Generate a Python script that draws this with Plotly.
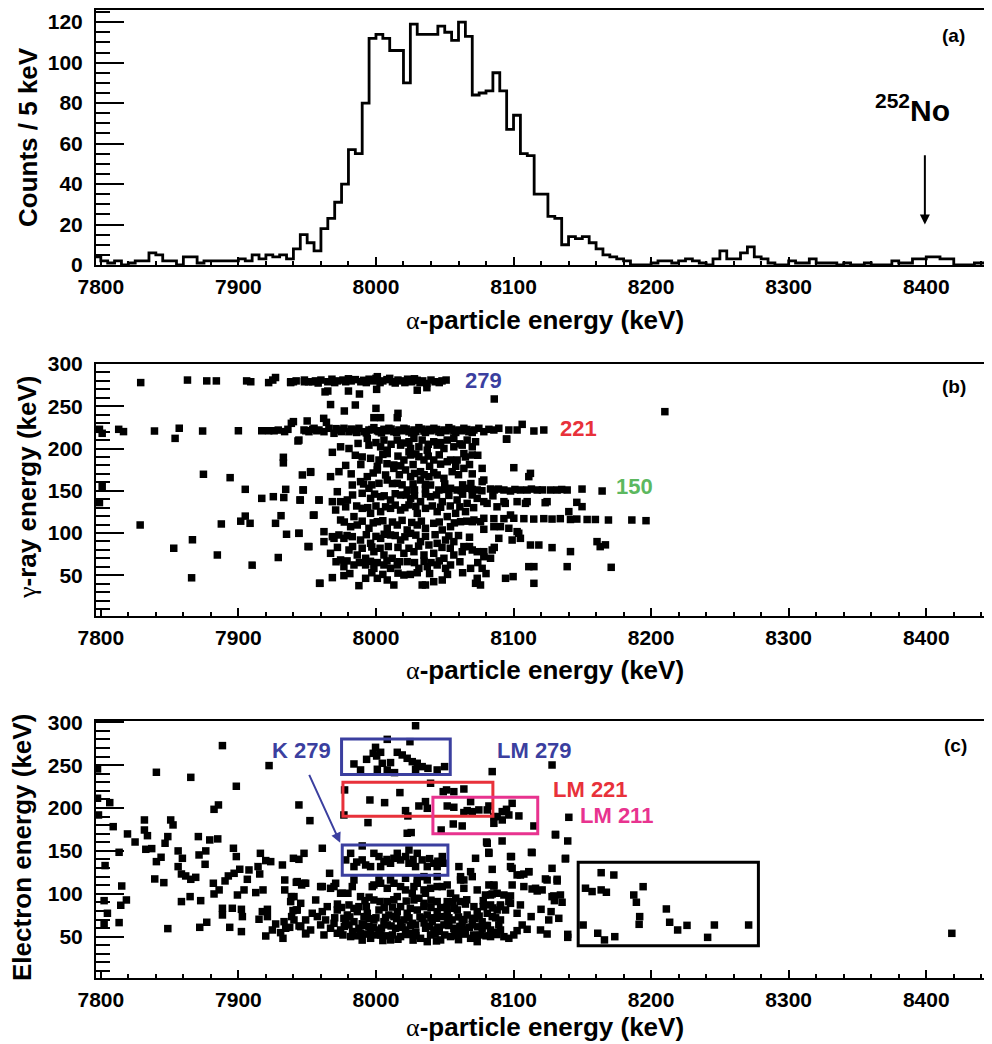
import plotly.graph_objects as go

# ---------------- Panel (a): alpha spectrum, 5 keV bins starting at 7795 keV ----------------
bin_start = 7795
bin_width = 5
counts_a = [
    4, 2, 1, 2, 0, 1, 2, 2, 6, 5,
    2, 2, 0, 4, 4, 1, 2, 2, 2, 2,
    2, 3, 2, 5, 3, 5, 4, 5, 3, 8,
    15, 11, 7, 18, 23, 31, 40, 57, 55, 80,
    112, 114, 112, 106, 106, 90, 119, 114, 114, 114,
    118, 115, 111, 120, 113, 84, 85, 86, 95, 86,
    67, 74, 55, 54, 35, 35, 24, 23, 10, 14,
    13, 14, 11, 8, 5, 4, 3, 2, 0, 0,
    0, 1, 2, 2, 1, 2, 3, 2, 1, 0,
    3, 7, 3, 3, 6, 9, 4, 3, 1, 0,
    0, 2, 1, 1, 3, 1, 1, 1, 0, 1,
    0, 0, 1, 0, 0, 0, 2, 1, 1, 3,
    3, 4, 4, 3, 3, 0, 0, 0, 1, 1, 0,
]
x_ticks = [7800, 7900, 8000, 8100, 8200, 8300, 8400]

# ---------------- Panel (b): gamma-ray energy vs alpha energy (alpha keV, gamma keV) ----------------
b_line279 = [
    (7829, 278), (7863, 281), (7877, 280), (7884, 280), (7906, 280), (7909, 279), (7922, 278),
    (7925, 281), (7927, 284), (7938, 278), (7940, 279), (7948, 279), (7954, 279),
    (7938, 279), (7942, 280), (7948, 281), (7951, 279), (7956, 280), (7960, 281), (7965, 279),
    (7968, 282), (7972, 280), (7976, 281), (7978, 279), (7982, 280), (7985, 281.5), (7989, 279),
    (7991, 280.7), (7995, 282), (7998, 280), (8001, 285), (8005, 280), (8008, 281.5), (8012, 279),
    (8016, 281), (8019, 280), (8023, 282), (8026, 279), (8030, 280.7), (8034, 280), (8037, 277),
    (8043, 279), (8051, 281), (7958, 277.5), (7970, 278), (7980, 282.5), (7993, 278), (8000, 283),
    (8003, 278), (8010, 283), (8014, 277.5), (8021, 278), (8028, 282.5), (8032, 278), (8040, 281),
    (8046, 278), (8048, 280),
]
b_between = [
    (7963, 267), (7965, 268), (7980, 268), (7988, 264.5), (8000.5, 270), (8030, 269), (8037, 272),
    (8086, 258.6), (7967, 252), (7977, 244.4), (7985, 251.5), (8000, 247.5), (7998.5, 236.5),
    (8003.4, 236.5), (8016, 241.6), (8015.5, 236.5), (8210, 243.6),
]
b_line221 = [
    (7799, 222.7), (7801, 218), (7813, 222.7), (7816.5, 220), (7839, 220.7), (7854, 212), (7857, 224),
    (7874, 220.7), (7900, 221), (7917, 221), (7922, 221), (7926, 221), (7929, 221.8), (7933.6, 220),
    (7936, 222.7), (7938.5, 229.8), (7940, 231.8), (7944, 210), (7949, 221), (7950, 232.6),
    (7954, 222.7), (7957, 221), (7964, 231), (7962, 235.7),
    (7947.7, 221.9), (7951.3, 219.9), (7955, 223.9), (7958.6, 221.9), (7962.2, 219.9), (7965.8, 223.9),
    (7969.5, 218), (7973.1, 221.9), (7976.7, 223.9), (7980.4, 219.9), (7984, 221.9), (7987.6, 223.9),
    (7991.3, 219.9), (7994.9, 221.9), (7998.5, 224.7), (8002.2, 219.9), (8005.8, 222.7), (8009.4, 223.9),
    (8013, 219.9), (8016.7, 221.9), (8020.3, 223.9), (8024, 219.9), (8027.6, 221.9), (8031.2, 224.7),
    (8034.9, 220.7), (8038.5, 222.7), (8042.1, 223.9), (8045.7, 219.9), (8049.4, 221.9), (8053, 224.7),
    (8056.6, 220.7), (8060.3, 221.9), (8063.9, 223.9), (8067.5, 219.9), (8071.2, 221.9), (8074.8, 223.9),
    (8078.4, 219.9), (8082.1, 222.7), (8085.7, 221.9), (8089.3, 223.9), (8096.6, 221.9), (8102.6, 221.9),
    (8106.3, 228.6), (8114.8, 220.7), (8122, 221.9),
    (7993, 218.5), (7997, 222.5), (8001, 221), (8004, 218.5), (8008, 221), (8011, 223), (8015, 219),
    (8019, 221), (8022, 223), (8026, 218.5), (8029, 220), (8033, 223), (8036, 219), (8040, 221),
    (8044, 222.5), (8047, 219), (8051, 221), (8055, 223), (8058, 219), (8062, 221), (8066, 222.5),
    (8070, 219), (7982, 223), (7986, 219), (7975, 220), (7971, 223.5), (8095, 211),
]
b_upper_body = [
    (7943.3, 208.9), (7993.7, 212), (8005.8, 210), (8015.5, 210), (8024, 208), (8027.6, 212),
    (8033.6, 210), (8042, 208), (8051.8, 210), (8056.6, 212), (8066.3, 210), (8072.4, 208), (8094.9, 211.2),
    (7968.3, 195.5), (7974.3, 202), (7980.4, 200), (7994.9, 204), (8003.4, 202), (8008.2, 198),
    (8017.9, 204), (8025.2, 200), (8031.2, 202), (8037.3, 198), (8044.5, 204), (8049.4, 200),
    (8056.6, 202), (8062.7, 204), (8070, 202),
    (7996.1, 188.4), (8002.2, 186.4), (8008.2, 194), (8013, 180.5), (8020.3, 186.4), (8025.2, 192.3),
    (8031.2, 190.3), (8034.9, 186.4), (8042, 186.4), (8051.8, 184.4), (8054.2, 186.4), (8059, 186.4),
    (8063.9, 194), (8070, 192.3), (8077.2, 176.5), (8100.2, 177.3), (8024, 196),
    (7946.5, 168.7), (7952.5, 171.8), (7967, 166.7), (7973.1, 172.6), (7993.7, 166.7), (8001, 174.6),
    (8007, 168.7), (8013, 176.5), (8021.5, 174.6), (8025.2, 166.7), (8032.4, 172.6), (8038.5, 166.7),
    (8044.5, 168.7), (8049.4, 164.7), (8055.4, 172.6), (8063.9, 176.5), (8077.2, 160.8), (8112.3, 170.6),
    (8111.1, 166.7),
    (7987, 206), (8000, 207), (8011, 205), (8020, 206.5), (8038, 205), (8047, 207), (8061, 205.5),
    (7985, 192), (7990, 190), (8005, 193), (8016, 191), (8029, 193.5), (8038, 191), (8046, 192.5),
    (8065, 190), (8074, 192),
    (7978, 180), (7989, 181), (8001, 179), (8008, 182), (8018, 179.5), (8027, 181), (8039, 179),
    (8047, 181.5), (8058, 179), (8068, 181),
    (7982, 170), (7998, 171), (8017, 169), (8028, 170.5), (8035, 169), (8042, 171.5), (8060, 169),
    (8070, 170),
]
b_line150 = [
    (7982.8, 156.8), (7988.8, 160.8), (7994.9, 152.9), (8002.2, 158.8), (8008.2, 162.7), (8015.5, 158.8),
    (8022.7, 150.9), (8032.4, 162.7), (8039.7, 156.8), (8045.7, 150.9), (8054.2, 152.9), (8059, 150.9),
    (8066.3, 152.9), (8073.6, 150.9), (8078.4, 162.7), (8083.3, 152.1), (8093, 150.9), (8097.8, 149.7),
    (8105, 150.9), (8109.9, 150.9), (8117.2, 150.9), (8126.9, 150.9), (8131.7, 150.9), (8139, 150.9),
    (8149.8, 152), (8164.4, 149.7), (8086, 151), (8089, 152), (8101, 151.5), (8113, 152), (8121, 151),
    (8135, 151.5), (8050, 151.5), (8062, 150), (8070, 151.5), (8077, 150), (8028, 151), (8036, 152),
    (7991, 158), (7997, 157), (8012, 158.5), (8019, 157), (8027, 158), (8036, 157.5), (8050, 158),
    (8063, 157), (8069, 158.5),
]
b_lower_body = [
    (7947.2, 150.9), (7944.8, 139.1), (7958.6, 139.1), (7971.9, 148.9), (7968.3, 137.1), (7974.3, 137.1),
    (7979.2, 139.1), (7990, 147), (7996.1, 141), (8003.4, 143), (8010.6, 139.1), (8017.9, 145),
    (8025.2, 141), (8032.4, 137.1), (8039.7, 143), (8048.2, 137.1), (8059, 139.1), (8066.3, 135.1),
    (8073.6, 141), (8078.4, 137.1), (8093, 137.1), (8102.6, 137.1), (8109.9, 137.1), (8124.4, 137.1),
    (8080.8, 135.1), (8094, 135.1), (8108.7, 135.1), (8123, 135.9), (8146, 136.3), (8149.8, 131.2),
    (7955, 121.3), (7970.7, 127.2), (7974.3, 115.4), (7984, 119.4), (7990, 129.2), (7996.1, 123.3),
    (8003.4, 125.3), (8010.6, 129.2), (8017.9, 127.2), (8024, 133.2), (8030, 123.3), (8036, 129.2),
    (8044.5, 125.3), (8051.8, 119.4), (8057.9, 123.3), (8065.1, 125.3), (8071.2, 115.4), (8078.4, 117.4),
    (8085.7, 117), (8093, 117), (8100.2, 117.5), (8107.5, 117), (8114.7, 116.5), (8122, 117), (8128, 116.5),
    (8134, 117), (8141.4, 116), (8146, 116.5), (8153.5, 116), (8159.5, 116), (8169, 115.4), (8186, 115.4),
    (8196.3, 114.6), (8097.8, 121.3), (8140.2, 125.3),
    (7944, 99.6), (7962.2, 101.6), (7968.3, 95.7), (7973.1, 97.7), (7981.6, 107.5), (7986.4, 109.5),
    (7994.9, 105.6), (8001, 113.4), (8008.2, 105.6), (8015.5, 109.5), (8022.7, 103.6), (8030, 109.5),
    (8036, 105.6), (8042, 111.5), (8048.2, 103.6), (8054.2, 107.5), (8061.5, 113.4), (8070, 113.4),
    (8076, 113.4), (8085.7, 107.5), (8096.6, 105.6), (8102.6, 101.6), (8105, 93.7), (8112.3, 85.8),
    (8118.4, 85.8), (8128, 82.7), (8089.3, 93.7), (8099, 91.7), (8078.4, 104.4), (8090.5, 107.5),
    (8103.8, 99.7),
    (7951.3, 83.9), (7962.2, 89.8), (7969.5, 93.7), (7976.7, 93.7), (7982.8, 95.7), (7988.8, 91.7),
    (7996.1, 87.8), (8003.4, 93.7), (8010.6, 97.7), (8017.9, 91.7), (8025.2, 99.6), (8032.4, 89.8),
    (8038.5, 85.8), (8044.5, 87.8), (8050.6, 91.7), (8056.6, 89.8), (8063.9, 83.9), (8073.6, 77.9),
    (8078.4, 77.9), (8084.5, 79.9), (8141.4, 78), (8160.7, 89.8), (8163, 83.9), (8166.8, 86),
    (7967, 76), (7974.3, 68.1), (7980.4, 79.9), (7986.4, 74), (7992.5, 70.1), (7998.5, 77.9),
    (8005.8, 74), (8011.8, 70.1), (8020.3, 76), (8027.6, 77.9), (8034.9, 74), (8042, 76), (8049.4, 70.1),
    (8056.6, 74), (8062.7, 77.9), (8070, 79.9), (8078.4, 72), (8083.3, 70.1),
    (7976.7, 60.2), (7984, 62.2), (7992.5, 62.2), (7998.5, 58.2), (8005.8, 62.2), (8010.6, 58.2),
    (8015.5, 62.2), (8022.7, 66.1), (8031.2, 58.2), (8037.3, 60.2), (8044.5, 62.2), (8050.6, 58.2),
    (8054.2, 62.2), (8068.8, 58.2), (8077.2, 58.2), (8111.1, 60.2), (8114.8, 60.2), (8139, 60.2),
    (8171, 59.4),
    (7959.3, 40.5), (7968.3, 47.2), (7976.7, 49.6), (7987.6, 37.7), (7992.5, 46.4), (8001, 46.4),
    (8008.2, 44.4), (8013, 38.5), (8020.3, 50.3), (8033.6, 38.5), (8036, 38.5), (8042, 42.4),
    (8048.2, 44.4), (8072.4, 40.5), (8073.6, 46.4), (8094.2, 46.4), (8099.7, 48.4), (8114.8, 40.5),
    (8076, 38.5),
    (7983, 145), (7999, 146), (8006, 144), (8014, 146.5), (8022, 145), (8028, 144), (8036, 146),
    (8044, 145), (8053, 144.5), (8063, 146), (8070, 145), (8085, 144),
    (7978, 131), (7986, 132), (7994, 130), (8000, 132), (8007, 131), (8014, 133), (8021, 130),
    (8029, 131.5), (8041, 132), (8047, 130.5), (8054, 132), (8061, 131), (8071, 130), (8088, 131),
    (7977, 113), (7990, 114), (7998, 112), (8005, 114.5), (8012, 113), (8019, 115), (8026, 112.5),
    (8033, 114), (8046, 113), (8057, 112), (8066, 114),
    (7979, 97), (7993, 98), (8000, 96), (8006, 98.5), (8014, 97), (8021, 95.5), (8029, 97.5),
    (8036, 96), (8043, 98), (8053, 96.5), (8060, 97), (8068, 95),
    (7972, 83), (7983, 84), (7990, 82), (7997, 83.5), (8003, 82), (8009, 84), (8016, 83),
    (8024, 82), (8031, 84.5), (8048, 83), (8054, 82), (8068, 84), (8086, 83),
    (7971, 66), (7979, 67), (7988, 65), (7996, 66.5), (8001, 65), (8008, 67), (8017, 66),
    (8028, 65), (8035, 66.5), (8040, 65), (8046, 67), (8061, 66), (8074, 65),
    (7981, 52), (7997, 53), (8005, 51), (8016, 52.5), (8025, 51), (8030, 53), (8039, 52),
    (8052, 51), (8063, 53), (8080, 52),
]
b_sparse_left = [
    (7799, 136), (7801, 155), (7828.6, 109.5), (7853, 82), (7866.6, 92), (7866, 47), (7874.6, 169.5),
    (7884.7, 74), (7887.6, 110.7), (7894, 165.5), (7901.7, 114), (7905, 151.7), (7905, 120),
    (7908.5, 111.5), (7910, 62), (7917, 141), (7925.4, 143), (7927, 111.5), (7929, 71), (7931, 120.5),
    (7932.7, 189.6), (7932.7, 183), (7933, 142), (7934.4, 151.7), (7935, 98.5), (7944, 99.7), (7945, 139),
    (7947, 151), (7950.6, 84), (7952.5, 172.6), (7954.5, 121), (7959, 40.5), (7958.6, 139),
]

# ---------------- Panel (c): electron energy vs alpha energy (alpha keV, electron keV) ----------------
c_left = [
    (7797.6, 245.6), (7797.6, 211.4), (7798.3, 191.9), (7806.5, 206.3), (7809, 178.3), (7813.3, 148.4),
    (7803.1, 132.9), (7815.2, 109.1), (7802.4, 92), (7814.5, 86.6), (7818.6, 92.8), (7804.8, 77.3),
    (7802.4, 64.8), (7813.3, 66.4), (7819.4, 169.8), (7824.9, 160.4), (7831.7, 186.1), (7831.7, 174.4),
    (7833.9, 167.8), (7832.7, 151.9), (7837, 152.7), (7840.4, 137.5), (7843.8, 142.6), (7840.4, 241.7),
    (7839.2, 117.3), (7845.8, 113), (7848.7, 59.4), (7850.8, 186.1), (7852.5, 180.3), (7848.7, 166.7),
    (7846.7, 158.9), (7856.2, 150), (7859.3, 141.4), (7856.2, 131.7), (7858.6, 123.1), (7861.7, 120.8),
    (7865.4, 116.9), (7869, 119.2), (7865.4, 235.8), (7858.6, 90.9), (7864.9, 96.7), (7872.6, 92),
    (7870.9, 166.7), (7871.4, 145.3), (7875.8, 134.4), (7876.3, 150), (7879.2, 162.8), (7885, 164),
    (7882.3, 198.5), (7885.5, 203.6), (7888.4, 272.8), (7898.5, 225.4), (7881.8, 112.3), (7886, 104.5),
    (7882.3, 99.8), (7877, 66.8), (7871.9, 60.9), (7888.4, 83.1), (7895.6, 83.1), (7888.4, 75.3),
    (7893.7, 60.9), (7902.2, 81.9), (7902.9, 73.4), (7902.2, 55.9), (7896.4, 153.1), (7898.5, 143.4),
    (7890.3, 115), (7892.7, 120.8), (7896.9, 123.9), (7901, 128.6), (7907.7, 127.8), (7906.5, 116.9),
    (7904.1, 104.5), (7899.3, 98.6), (7912.6, 101.4), (7917.9, 104.5), (7916, 147.2), (7919.9, 138.7),
    (7923.5, 137.5), (7914.3, 131.7), (7915.5, 123.1), (7932, 133.6), (7933.7, 116.1), (7933.7, 104.5),
    (7938.5, 96.7), (7921.1, 81.9), (7917.4, 79.2), (7915, 70.3), (7921.1, 73.4), (7927.1, 64.8),
    (7924.7, 57.8), (7919.9, 50.8), (7933.2, 67.5), (7934.4, 59.8), (7930.7, 54.7), (7932.4, 48.1),
    (7939.7, 80.4), (7942.1, 81.1), (7938.7, 73.4), (7944.1, 62.5), (7937.3, 60.9), (7944, 203.6),
    (7922.3, 249.5), (7944, 140.2), (7942.1, 113.4), (7946, 110.3), (7947.7, 147.2), (7948.9, 53.2),
]
c_top = [
    (8028.8, 296), (8008.2, 280.1), (8024.7, 277.4), (7999.7, 270.8), (7993.2, 256.8), (8000.5, 260.7),
    (8003.4, 265), (7998, 263.8), (7984, 251.4), (7988.8, 244.4), (8001, 245.2), (8004.6, 252.2),
    (8010.6, 253), (8008.2, 244.4), (8015.5, 265), (8019.1, 261.9), (8022.7, 258), (8026.4, 254.1),
    (8030, 252.2), (8033.6, 248.3), (8037.8, 246.3), (8044.5, 244.4), (8049.9, 248.3), (8013.5, 241.3),
    (8028.8, 245.2), (8084.5, 242.5), (8128, 250.2),
]
c_lm221 = [
    (7977.2, 221.1), (7995.6, 209.4), (8006.3, 206.3), (8017.4, 218), (8021.5, 197), (8023.2, 190.8),
    (8039.7, 228.9), (8031.2, 202.4), (8036, 207.5), (8037.3, 199.7), (8048.9, 219.1), (8051.3, 221.1),
    (8056.6, 219.1), (8063.9, 222.2), (8051.8, 202.4), (8056.6, 200.9), (8068.8, 207.5), (8066.3, 197),
    (8070, 195.8), (8063.9, 194.7), (8074.8, 197.8), (8082.1, 202.4), (8080.9, 197.8), (8056.2, 181.4),
    (8062.7, 179.1), (8047.4, 174.4), (8085.7, 190), (8085.7, 182.2), (8088.1, 190), (8091.8, 195.8),
    (8094.9, 198.5), (8099, 205.5), (8103.9, 190.8), (8096.6, 191.9), (8114.8, 179.1), (8091.8, 186.1),
    (7976.7, 191.9), (7994.2, 183), (8022.7, 170.6), (8025.6, 171.4), (8140.2, 189.2), (8130.5, 169.3),
    (8139.4, 161.6), (7952, 185.3), (7961, 153.1),
]
c_k279 = [
    (7981.6, 147.2), (7978, 139.5), (7990, 139.5), (7992.5, 133.6), (7998.5, 147.2), (8002.2, 143.4),
    (8005.8, 137.5), (8010.6, 135.6), (8015.5, 147.2), (8017.9, 139.5), (8021.5, 143.4), (8024, 135.6),
    (8028.8, 131.7), (8033.6, 139.5), (8037.3, 131.7), (8042.1, 135.6), (8048.2, 143.4), (8049.4, 135.6),
    (7996.1, 131.7), (8013.1, 141.4), (8003.4, 131.7), (7984, 131.7), (8044.5, 131.7), (8030, 147.2),
    (7990, 155.8), (8024, 151.1), (7986, 137), (8008, 140), (8027, 140), (8039, 141), (8045, 138),
]
c_mid = [
    (7940, 141.4), (7966.3, 123.9), (7942.8, 114.2), (7947.7, 112.3), (7959.8, 108.4), (7969.5, 108.4),
    (7974.3, 100.6), (7979.6, 100.6), (7984, 116.1), (7988.8, 96.7), (7997.3, 108.4), (8003.4, 112.3),
    (8010.6, 116.1), (8017.9, 108.4), (8030, 112.3), (8034.9, 104.5), (8037.3, 116.1), (8044.5, 108.4),
    (8051.8, 110.3), (8060.3, 131.7), (8061.5, 120), (8068.8, 125.8), (8063.9, 116.1), (8072.4, 141.4),
    (8080.9, 158.9), (8082.1, 147.2), (8097.8, 143.4), (8113.5, 148), (8130.5, 168.6), (8137.8, 141.4),
    (8124.4, 116.1), (8131.7, 116.9), (8097.8, 131.7), (8105, 121.9), (8111.1, 125.8), (8116, 106.4),
    (8120.8, 104.5), (8129.3, 97.5), (8085.7, 110.3), (8088.1, 100.6), (8093, 98.6), (8096.6, 90.9),
    (8105, 87), (8107.5, 108.4), (8083.3, 98.6),
    (8030, 116.1), (8034.9, 120), (8027.6, 108.4), (8036, 100.6), (8031.2, 94.8), (8026.4, 100.6),
    (7940.4, 96.7), (7948.9, 112.3), (7961, 108.4), (7967, 106.4), (7970.7, 112.3), (7975.5, 100.6),
    (7982.8, 108.4), (7998.5, 110.3), (8002.2, 116.1), (8008.2, 106.4), (8013.1, 112.3), (8015.5, 96.7),
    (8021.5, 118.1), (8021.5, 104.5), (8039.7, 106.4), (8044.5, 120), (8048.2, 108.4), (8054.2, 100.6),
    (8051.8, 90.9), (8061.5, 116.1), (8063.9, 106.4), (8070, 120), (8073.6, 104.5), (8082.1, 110.3),
    (8079.6, 98.6),
    (8080.4, 160.4), (8091.7, 161.6), (8082, 148.4), (8098.5, 143.4), (8113, 148.4), (8137.7, 140.6),
    (8084.5, 128.5), (8099, 129.7), (8102.6, 122), (8107.5, 123), (8111.1, 125.7), (8128, 129.7),
    (8123.2, 117.3), (8131.7, 114.9), (8085.7, 109), (8099, 110.3), (8113.5, 105.6), (8117.2, 103.3),
    (8084.5, 99.8), (8097.8, 97.5), (8128, 96.7), (8134.1, 98.6), (8129.7, 92), (8135.3, 90.1),
]
c_low = [
    (7938, 90.9), (7945.3, 88.9), (7956.2, 92.8), (7964.6, 85), (7980.4, 87), (7987.6, 85), (7998.5, 92.8),
    (8008.2, 90.9), (8017.9, 85), (8027.6, 92.8), (8034.9, 88.9), (8044.5, 90.9), (8051.8, 85),
    (8061.5, 90.9), (8071.2, 85), (8083.3, 87), (8090.5, 87),
    (7942.8, 81.1), (7953.7, 77.3), (7961, 79.2), (7971.9, 81.1), (7979.2, 75.3), (7986.4, 79.2),
    (7993.7, 77.3), (8002.2, 81.1), (8009.4, 75.3), (8015.5, 79.2), (8022.7, 77.3), (8030, 81.1),
    (8037.3, 75.3), (8044.5, 79.2), (8051.8, 77.3), (8059.1, 81.1), (8066.3, 75.3), (8073.6, 79.2),
    (8080.9, 77.3), (8088.1, 81.1),
    (7940.4, 69.5), (7948.9, 69.5), (7957.4, 73.4), (7963.4, 69.5), (7969.5, 65.6), (7976.7, 71.4),
    (7984, 67.5), (7991.3, 73.4), (7998.5, 69.5), (8005.8, 67.5), (8013.1, 73.4), (8020.3, 69.5),
    (8026.4, 65.6), (8033.6, 71.4), (8040.9, 67.5), (8048.2, 73.4), (8055.4, 69.5), (8062.7, 65.6),
    (8070, 71.4), (8077.2, 67.5), (8084.5, 73.4), (8090.5, 69.5),
    (7945.3, 61.7), (7952.5, 57.8), (7959.8, 63.7), (7967, 59.8), (7974.3, 57.8), (7980.4, 63.7),
    (7987.6, 59.8), (7994.9, 61.7), (8002.2, 57.8), (8008.2, 63.7), (8014.3, 59.8), (8021.5, 57.8),
    (8028.8, 63.7), (8036.1, 59.8), (8042.1, 57.8), (8049.4, 63.7), (8056.6, 59.8), (8063.9, 57.8),
    (8070, 63.7), (8077.2, 59.8), (8083.3, 57.8), (8089.3, 63.7),
    (7948.9, 54), (7962.2, 52), (7971.9, 54), (7981.6, 50.1), (7988.8, 54), (7996.1, 48.1), (8003.4, 52),
    (8010.6, 46.2), (8017.9, 50.1), (8025.2, 54), (8032.4, 48.1), (8039.7, 52), (8047, 46.2),
    (8054.2, 50.1), (8061.5, 54), (8068.8, 48.1), (8076, 52), (8083.3, 50.1), (8073.6, 44.2), (8037.3, 44.2),
    (7978, 70), (7983, 56), (7990, 65), (7996, 54), (8000, 72), (8004, 60), (8012, 52), (8018, 66),
    (8024, 72), (8029, 55), (8035, 66), (8040, 72), (8046, 56), (8052, 65), (8058, 54), (8064, 70),
    (8068, 61), (8075, 74), (8081, 63), (8086, 55), (7972, 88), (8006, 84), (8040, 84), (8065, 88),
    (7995, 96), (8058, 95),
    (7992, 92), (8003, 91), (8013, 93), (8022, 91.5), (8040, 92.5), (8056, 91), (8066, 93), (8078, 92),
    (7975, 84), (7984, 83), (7993, 85), (8012, 84.5), (8025, 83), (8035, 85), (8047, 84), (8057, 83),
    (8078, 85), (8085, 83.5),
    (7970, 72), (7981, 73), (7995, 71), (8007, 72.5), (8015, 71), (8032, 73), (8044, 71.5), (8053, 72),
    (8060, 73), (8072, 71), (8087, 72),
    (7977, 62), (7991, 63), (7998, 61), (8011, 62.5), (8019, 61), (8025, 63), (8039, 62), (8045, 61),
    (8053, 63), (8061, 62), (8074, 61.5), (8080, 63),
    (7976, 52), (7986, 51), (7993, 53), (8000, 52), (8008, 51), (8022, 52.5), (8029, 51), (8043, 53),
    (8050, 52), (8057, 51), (8065, 53), (8071, 52), (8080, 51), (8088, 52.5),
    (7990, 46), (8005, 45.5), (8016, 47), (8027, 46), (8044, 45), (8060, 46.5),
    (8120, 81.9), (8127.3, 79.2), (8112.8, 73.4), (8132.9, 71.4), (8125.6, 69.5), (8102.6, 77.3),
    (8090.5, 85), (8094.2, 81.1), (8097.8, 88.9), (8109.9, 58.6), (8119.6, 57.8), (8124.4, 53.1),
    (8139.4, 52.7), (8139.4, 49.2), (8100.2, 52), (8096.6, 48.1), (8102.6, 57), (8090.5, 57.8),
    (8093, 50), (8106.3, 63.6),
]
c_far = [
    (8150.6, 63.6), (8152.3, 106.5), (8157.1, 102.6), (8161.2, 54), (8163.7, 124.6), (8163.7, 104.5),
    (8167.5, 101.8), (8166.1, 46.2), (8172.9, 121.9), (8173.6, 50), (8187.4, 98.6), (8189.3, 90.1),
    (8194.2, 108.3), (8191.7, 73.4), (8191.3, 64.4), (8211.1, 82.3), (8213.5, 66.8), (8219.3, 57.8),
    (8226.1, 63.2), (8241.1, 49.2), (8246, 63.6), (8270.9, 63.6), (8418.6, 53.9),
]

# ---------------- styling ----------------
BLUE = "#3b3f9f"
RED = "#e8313a"
GREEN = "#5cb85f"
PINK = "#e8338f"
FONT = "Liberation Sans"
OFF = 8                      # page offset of the plot div (default body margin)
W, H = 992 - OFF, 1044 - OFF
XRANGE = [7796.5, 8447.8]
XDOM = [(96 - OFF) / W, 1.0]


def px(x):
    return (x - OFF) / W


def py(y):
    return 1 - (y - OFF) / H


def ydom(top_px, bottom_px):
    return [py(bottom_px), py(top_px)]


edges = [bin_start + bin_width * i for i in range(len(counts_a) + 1)]
hist_y = counts_a + [counts_a[-1]]

fig = go.Figure()
fig.add_trace(go.Scatter(x=edges, y=hist_y, mode="lines", line=dict(color="black", width=2.8, shape="hv"),
                         xaxis="x", yaxis="y", showlegend=False, hoverinfo="skip"))

marker = dict(symbol="square", size=7.5, color="black", line=dict(width=0))
b_all = b_line279 + b_between + b_line221 + b_upper_body + b_line150 + b_lower_body + b_sparse_left
fig.add_trace(go.Scatter(x=[p[0] for p in b_all], y=[p[1] for p in b_all], mode="markers", marker=marker,
                         xaxis="x2", yaxis="y2", showlegend=False))
c_all = c_left + c_top + c_lm221 + c_k279 + c_mid + c_low + c_far
fig.add_trace(go.Scatter(x=[p[0] for p in c_all], y=[p[1] for p in c_all], mode="markers", marker=marker,
                         xaxis="x3", yaxis="y3", showlegend=False))

tickfont = dict(family=FONT, size=21, color="black", weight="bold")


def xaxis(anchor):
    return dict(range=XRANGE, domain=XDOM, anchor=anchor, tickmode="array", tickvals=x_ticks,
                ticks="inside", ticklen=8, tickwidth=2, tickcolor="black", automargin=False,
                minor=dict(dtick=20, tick0=7800, ticks="inside", ticklen=4, tickwidth=1.5, tickcolor="black",
                           showgrid=False),
                showline=True, linecolor="black", linewidth=2, mirror=True,
                showgrid=False, zeroline=False, tickfont=tickfont, ticklabelstandoff=2)


def yaxis(anchor, rng, dom, dtick, mdtick):
    return dict(range=rng, domain=dom, anchor=anchor, dtick=dtick, tick0=0, automargin=False,
                ticks="inside", ticklen=28, tickwidth=2, tickcolor="black",
                minor=dict(dtick=mdtick, tick0=0, ticks="inside", ticklen=14, tickwidth=1.5, tickcolor="black",
                           showgrid=False),
                showline=True, linecolor="black", linewidth=2, mirror=False,
                showgrid=False, zeroline=False, tickfont=tickfont, ticklabelstandoff=7)


fig.update_layout(
    template="none",
    width=W, height=H, margin=dict(l=0, r=0, t=0, b=0, pad=0),
    paper_bgcolor="white", plot_bgcolor="white", showlegend=False,
    xaxis=xaxis("y"), yaxis=yaxis("x", [0, 126], ydom(10, 265), 20, 5),
    xaxis2=xaxis("y2"), yaxis2=yaxis("x2", [1.8, 300], ydom(364, 616), 50, 10),
    xaxis3=xaxis("y3"), yaxis3=yaxis("x3", [1.8, 301.5], ydom(721, 978), 50, 10),
)

shapes = [
    dict(type="rect", xref="x3", yref="y3", x0=7975, x1=8054, y0=239, y1=280.5, line=dict(color=BLUE, width=3)),
    dict(type="rect", xref="x3", yref="y3", x0=7976, x1=8085, y0=190.5, y1=230, line=dict(color=RED, width=3)),
    dict(type="rect", xref="x3", yref="y3", x0=8041.4, x1=8117.6, y0=170, y1=212.5, line=dict(color=PINK, width=3)),
    dict(type="rect", xref="x3", yref="y3", x0=7975.5, x1=8052.3, y0=121.5, y1=157, line=dict(color=BLUE, width=3)),
    dict(type="rect", xref="x3", yref="y3", x0=8147, x1=8278, y0=39.5, y1=136.7, line=dict(color="black", width=3)),
]
fig.update_layout(shapes=shapes)

alpha_title = ("<span style=\"font-family:Liberation Serif;font-weight:normal\">\u03b1</span>"
               "-particle energy (keV)")
gamma_title = ("<span style=\"font-family:Liberation Serif;font-weight:normal\">\u03b3</span>"
               "-ray energy (keV)")
tfont = dict(family=FONT, size=26, color="black", weight="bold")


def ptxt(text, x_px, y_px, angle=0):
    return dict(text=text, x=px(x_px), y=py(y_px), xref="paper", yref="paper", showarrow=False,
                xanchor="center", yanchor="middle", font=tfont, textangle=angle)


def txt(text, x, y, xref, yref, size, color="black"):
    return dict(text=text, x=x, y=y, xref=xref, yref=yref, showarrow=False, xanchor="center",
                yanchor="middle", font=dict(family=FONT, size=size, color=color, weight="bold"))


ann = [
    ptxt(alpha_title, 545, 320),
    ptxt(alpha_title, 545, 670),
    ptxt(alpha_title, 545, 1027),
    ptxt("Counts / 5 keV", 28, 137, -90),
    ptxt(gamma_title, 27, 488, -90),
    ptxt("Electron energy (keV)", 22, 848, -90),
    txt("(a)", 8420, 113.6, "x", "y", 19),
    txt("<sup>252</sup>No", 8390, 77.5, "x", "y", 30),
    dict(x=8399, y=20, ax=8399, ay=55, xref="x", yref="y", axref="x", ayref="y", text="", showarrow=True,
         arrowhead=2, arrowsize=1, arrowwidth=2, arrowcolor="black"),
    txt("(b)", 8420, 272.8, "x2", "y2", 19),
    txt("279", 8078, 280, "x2", "y2", 22, BLUE),
    txt("221", 8147, 224, "x2", "y2", 22, RED),
    txt("150", 8188, 154.5, "x2", "y2", 22, GREEN),
    txt("(c)", 8421, 273, "x3", "y3", 19),
    txt("K 279", 7946, 267.6, "x3", "y3", 22, BLUE),
    txt("LM 279", 8115, 267.6, "x3", "y3", 22, BLUE),
    txt("LM 221", 8156, 222, "x3", "y3", 22, RED),
    txt("LM 211", 8175, 191.7, "x3", "y3", 22, PINK),
    dict(x=7974, y=159.5, ax=7951, ay=240.5, xref="x3", yref="y3", axref="x3", ayref="y3", text="",
         showarrow=True, arrowhead=2, arrowsize=1, arrowwidth=2, arrowcolor=BLUE),
]
fig.update_layout(annotations=ann)

fig.write_html("out.html")
